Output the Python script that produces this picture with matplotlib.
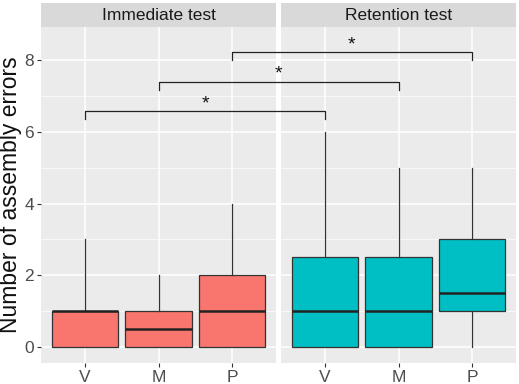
import matplotlib
matplotlib.use("Agg")
import matplotlib.pyplot as plt
from matplotlib.lines import Line2D

plt.rcParams["font.family"] = ["Liberation Sans", "DejaVu Sans"]

groups = ["V", "M", "P"]
panels = ["Immediate test", "Retention test"]
colors = ["#F8766D", "#00BFC4"]

# (whisker low, q1, median, q3, whisker high) per group
immediate = [(0, 0, 1, 1, 3), (0, 0, 0.5, 1, 2), (0, 0, 1, 2, 4)]
retention = [(0, 0, 1, 2.5, 6), (0, 0, 1, 2.5, 5), (0, 1, 1.5, 3, 5)]

# significance brackets: group index, bracket height, label
brackets = [(0, 6.58, "*"), (1, 7.40, "*"), (2, 8.22, "*")]

W, H = 519, 384
fig = plt.figure(figsize=(W / 100, H / 100), dpi=100)

def box(x0, y0, x1, y1):
    return [x0 / W, 1 - y1 / H, (x1 - x0) / W, (y1 - y0) / H]

axL = fig.add_axes(box(41, 27, 276, 363))
axR = fig.add_axes(box(281, 27, 516, 363))
stL = fig.add_axes(box(41, 3, 276, 27))
stR = fig.add_axes(box(281, 3, 516, 27))

for ax, data, col in [(axL, immediate, colors[0]), (axR, retention, colors[1])]:
    stats = []
    for g, (lo, q1, med, q3, hi) in zip(groups, data):
        stats.append(dict(label=g, whislo=lo, q1=q1, med=med, q3=q3, whishi=hi, fliers=[]))
    ax.bxp(stats, positions=[1, 2, 3], widths=0.9, patch_artist=True, showcaps=False,
           boxprops=dict(facecolor=col, edgecolor="#333333", linewidth=0.9),
           medianprops=dict(color="#222222", linewidth=1.8),
           whiskerprops=dict(color="#333333", linewidth=0.9), zorder=3)
    ax.set_facecolor("#EBEBEB")
    ax.set_xlim(0.4, 3.6)
    ax.set_ylim(-0.45, 8.93)
    ax.set_xticks([1, 2, 3])
    ax.set_xticklabels(groups)
    ax.set_yticks([0, 2, 4, 6, 8])
    ax.set_yticks([1, 3, 5, 7], minor=True)
    ax.grid(True, which="major", color="white", linewidth=1.1, zorder=0)
    ax.grid(True, which="minor", axis="y", color="white", linewidth=0.5, zorder=0)
    ax.set_axisbelow(True)
    for s in ax.spines.values():
        s.set_visible(False)
    ax.tick_params(which="major", length=3, width=0.8, color="#333333",
                   labelcolor="#4D4D4D", labelsize=12.5, pad=2)
    ax.tick_params(which="minor", length=0)

axR.tick_params(axis="y", left=False, labelleft=False)
axL.set_ylabel("Number of assembly errors", fontsize=16.5, color="#111111")
axL.yaxis.set_label_coords(-19 / 235, 0.5)

for st, name in zip([stL, stR], panels):
    st.set_facecolor("#D9D9D9")
    st.set_xticks([])
    st.set_yticks([])
    for s in st.spines.values():
        s.set_visible(False)
    st.text(0.5, 0.48, name, ha="center", va="center", fontsize=12.5, color="#1A1A1A",
            transform=st.transAxes)

# brackets spanning both panels, drawn in figure coords
inv = fig.transFigure.inverted()
tick = 0.22
for gi, yb, lab in brackets:
    pa = axL.transData.transform((gi + 1, yb))
    pb = axR.transData.transform((gi + 1, yb))
    pa_lo = axL.transData.transform((gi + 1, yb - tick))
    pb_lo = axR.transData.transform((gi + 1, yb - tick))
    pts = inv.transform([pa_lo, pa, pb, pb_lo])
    fig.add_artist(Line2D(pts[:, 0], pts[:, 1], color="#222222", linewidth=0.9))
    mid = inv.transform([((pa[0] + pb[0]) / 2, pa[1] - 1)])[0]
    fig.text(mid[0], mid[1], lab, ha="center", va="bottom", fontsize=14, color="#111111")

fig.savefig("out.png", dpi=100)
